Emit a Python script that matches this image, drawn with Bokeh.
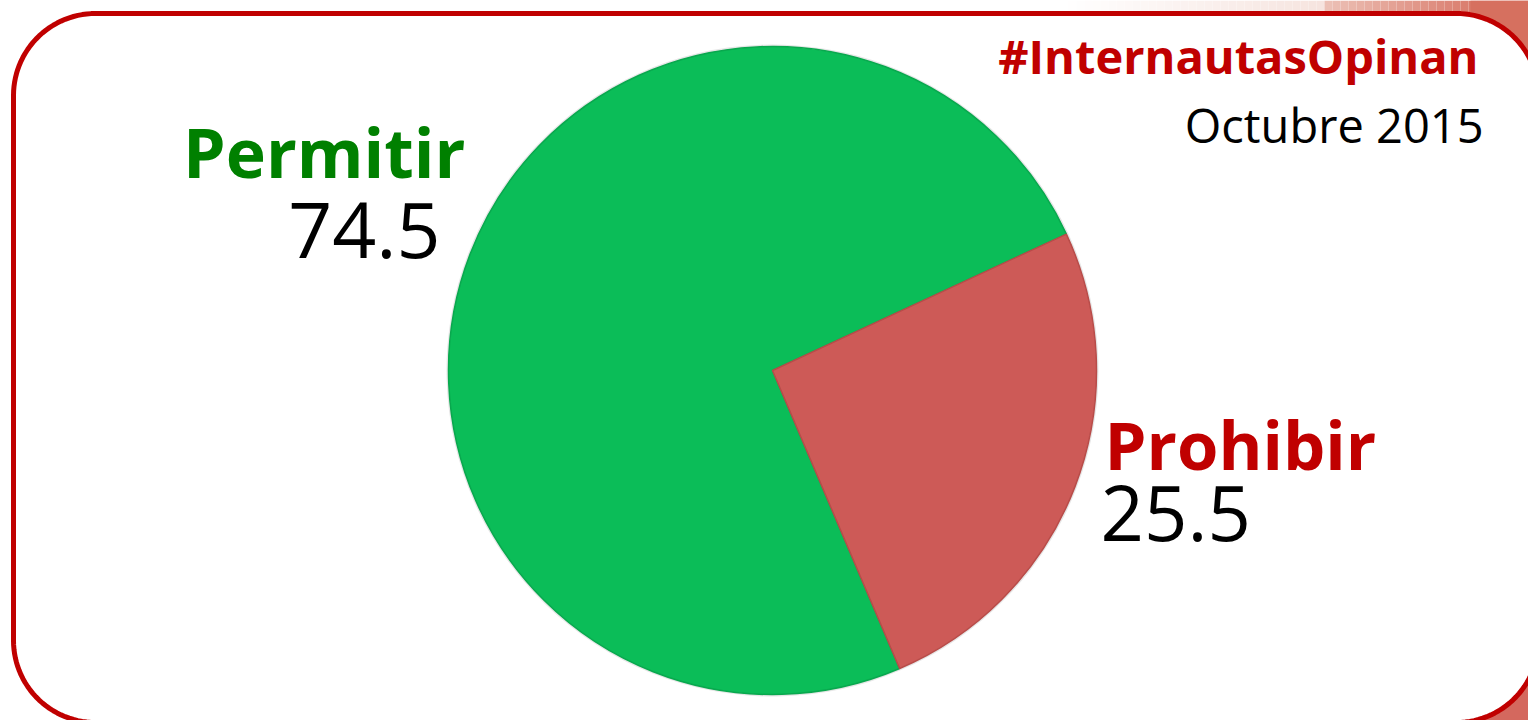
import numpy as np
from bokeh.plotting import figure
from bokeh.models import Range1d
from bokeh.embed import file_html
from bokeh.resources import INLINE
from bokeh.core.properties import value

# ---- data ----
categories = ["Permitir", "Prohibir"]
values = [74.5, 25.5]
slice_colors = ["#0BBD58", "#CD5A57"]
label_colors = ["#008000", "#C00000"]
title_text = "#InternautasOpinan"
subtitle_text = "Octubre 2015"

W, H = 1528, 720
FONT = value("Open Sans")


def Y(y_img):
    return H - y_img


p = figure(width=W, height=H, x_range=Range1d(0, W), y_range=Range1d(0, H),
           output_backend="svg", toolbar_location=None, min_border=0)
p.axis.visible = False
p.grid.visible = False
p.outline_line_color = None
p.background_fill_color = "white"
p.border_fill_color = "white"

# ---- reddish background outside the frame (top right / bottom right) ----
def mix(c1, c2, t):
    a = [int(c1[i:i + 2], 16) for i in (1, 3, 5)]
    b = [int(c2[i:i + 2], 16) for i in (1, 3, 5)]
    return "#%02x%02x%02x" % tuple(int(round(a[k] + (b[k] - a[k]) * t)) for k in range(3))

xs = np.arange(1060, W, 8)
lefts, rights, cols = [], [], []
for x0 in xs:
    t = (x0 - 1060) / (W - 1060)
    if t < 0.55:
        c = mix("#FFFFFF", "#F6E4DF", t / 0.55)
    else:
        c = mix("#EDC3B8", "#D2604F", (t - 0.55) / 0.45)
    lefts.append(x0)
    rights.append(x0 + 8)
    cols.append(c)
p.quad(left=lefts, right=rights, bottom=[Y(40)] * len(xs), top=[H] * len(xs),
       fill_color=cols, line_color=None)
p.quad(left=[1380], right=[W], bottom=[Y(720)], top=[Y(560)],
       fill_color="#D4685E", line_color=None)
p.quad(left=[1470], right=[W], bottom=[Y(560)], top=[Y(0)],
       fill_color="#D6705F", line_color=None)

# ---- rounded frame ----
L, T, R, B, r = 13, 13, 1538, 722, 82
def arc(cx, cy, a0, a1, n=30):
    a = np.linspace(np.radians(a0), np.radians(a1), n)
    return list(cx + r * np.cos(a)), list(cy + r * np.sin(a))
fx, fy = [], []
for (cx, cy, a0, a1) in [(L + r, T + r, 180, 270), (R - r, T + r, 270, 360),
                         (R - r, B - r, 0, 90), (L + r, B - r, 90, 180)]:
    ax_, ay_ = arc(cx, cy, a0, a1)
    fx += ax_
    fy += ay_
p.patch(x=fx, y=[Y(v) for v in fy], fill_color="white", line_color="#C00000",
        line_width=5)

# ---- pie ----
cx, cy, rad = 772, Y(370), 324
offset = np.radians(24.9)
fr = np.array(values) / sum(values) * 2 * np.pi
starts = offset + np.concatenate([[0], np.cumsum(fr)[:-1]])
ends = starts + fr
p.wedge(x=cx, y=cy, radius=rad + 2, start_angle=list(starts), end_angle=list(ends),
        fill_color="#9a9a9a", fill_alpha=0.25, line_color=None)
p.wedge(x=cx, y=cy, radius=rad, start_angle=list(starts), end_angle=list(ends),
        fill_color=slice_colors, line_color=["#09A84E", "#B84C49"], line_width=1.5)

# ---- labels ----
def txt(x, yb, s, size, color, align, bold=False):
    p.text(x=[x], y=[Y(yb - 0.4 * size)], text=[s], text_font=FONT,
           text_font_style="bold" if bold else "normal",
           text_font_size=f"{size}px", text_color=color,
           text_align=align, text_baseline="alphabetic")

txt(465, 178, categories[0], 68, label_colors[0], "right", True)
txt(440, 260, f"{values[0]:.1f}", 77, "black", "right")
txt(1104, 470, categories[1], 67, label_colors[1], "left", True)
txt(1100, 543, f"{values[1]:.1f}", 76, "black", "left")
txt(1478, 74, title_text, 47, "#C00000", "right", True)
txt(1483, 143, subtitle_text, 47, "black", "right")

open("out.html", "w").write(file_html(p, INLINE))
